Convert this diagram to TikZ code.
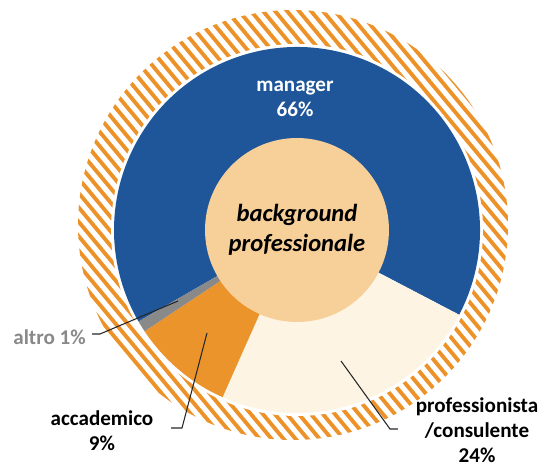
\documentclass[tikz,border=0pt]{standalone}
\usepackage{fontspec}
\setmainfont{Carlito}
\definecolor{mgrblue}{RGB}{30,86,153}
\definecolor{peach}{RGB}{247,207,152}
\definecolor{cream}{RGB}{253,244,228}
\definecolor{accorange}{RGB}{236,148,44}
\definecolor{altgrey}{RGB}{137,137,137}
\definecolor{hatchorange}{RGB}{236,146,40}

\begin{document}
\begin{tikzpicture}[x=0.02cm,y=0.02cm,
  hatchline/.style={hatchorange,line width=2.2pt},
  lbl/.style={font=\fontsize{12}{14.4}\selectfont\bfseries,align=center,inner ysep=2pt,inner xsep=10pt},
  leader/.style={line width=0.6pt,black!85}]
\useasboundingbox (0,0) rectangle (542,463);
\coordinate (hc) at (293,238);
\coordinate (c) at (297,233);
% hatched ring behind the chart
\begin{scope}
\clip (hc) circle (215);
\foreach \x in {-340,-328,...,520}
  \draw[hatchline] (\x,470) -- ++(390,-468);
\end{scope}
\fill[white] (c) circle (186);
% slices
\fill[mgrblue] (c) -- ++(-27.6:183) arc (-27.6:210:183) -- cycle;
\fill[cream] (c) -- ++(-114:183) arc (-114:-27.6:183) -- cycle;
\fill[accorange] (c) -- ++(-146.4:183) arc (-146.4:-114:183) -- cycle;
\fill[altgrey] (c) -- ++(-150:183) arc (-150:-146.4:183) -- cycle;
\node[circle,fill=peach,minimum size=3.68cm,inner sep=0pt,align=center,
  font=\fontsize{14}{17}\selectfont\bfseries\itshape] (bg) at (c) {background\\professionale};
% labels
\node[lbl,text=white] (mgr) at (295,364) {manager\\66\%};
\node[lbl,text=altgrey,inner xsep=3.4pt,anchor=east] (altro) at (92,126) {altro 1\%};
\node[lbl] (acc) at (102,32) {accademico\\9\%};
\node[lbl] (prof) at (477,33) {professionista\\/consulente\\24\%};
% leader lines
\coordinate (pAltro) at (178,162);
\coordinate (kAltro) at (100,129);
\coordinate (pAcc) at (207,130);
\coordinate (kAcc) at (182,35);
\coordinate (pProf) at (341,102);
\coordinate (kProf) at (390,34);
\draw[leader] (pAltro) -- (kAltro) -- (kAltro -| altro.east);
\draw[leader] (pAcc) -- (kAcc) -- (kAcc -| acc.east);
\draw[leader] (pProf) -- (kProf) -- (kProf -| prof.west);
\end{tikzpicture}
\end{document}
